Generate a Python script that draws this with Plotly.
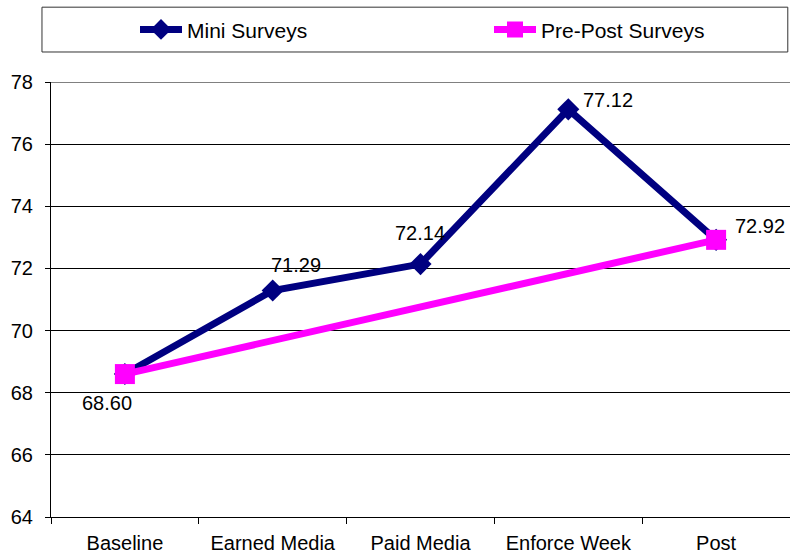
import plotly.graph_objects as go

categories = ["Baseline", "Earned Media", "Paid Media", "Enforce Week", "Post"]
mini_surveys = [68.60, 71.29, 72.14, 77.12, 72.92]
pre_post_surveys = [68.60, None, None, None, 72.92]
y_ticks = [64, 66, 68, 70, 72, 74, 76, 78]

# label offsets (pixels) for the Mini Surveys value labels
label_shift = [(-18, -29), (23, 25), (-1, 31), (40, 9), (44, 14)]

FONT = "Liberation Sans, Arial, sans-serif"

fig = go.Figure()
fig.add_trace(go.Scatter(
    x=categories, y=mini_surveys, name="Mini Surveys", mode="lines+markers",
    line=dict(color="#000080", width=7),
    marker=dict(symbol="diamond", size=17, color="#000080"),
    legend="legend",
))
fig.add_trace(go.Scatter(
    x=categories, y=pre_post_surveys, name="Pre-Post Surveys", mode="lines+markers",
    connectgaps=True,
    line=dict(color="#FF00FF", width=7),
    marker=dict(symbol="square", size=20, color="#FF00FF"),
    legend="legend2",
))

for c, v, (dx, dy) in zip(categories, mini_surveys, label_shift):
    fig.add_annotation(x=c, y=v, text=f"{v:.2f}", showarrow=False,
                       xshift=dx, yshift=dy,
                       font=dict(family=FONT, size=20, color="black"))

# legend frame
fig.add_shape(type="rect", xref="paper", yref="paper",
              x0=-0.0122, x1=0.997, y0=1.069, y1=1.172,
              line=dict(color="#333333", width=1), fillcolor="white", layer="below")
# top border of plot area
fig.add_shape(type="line", xref="paper", yref="y", x0=0, x1=1, y0=78, y1=78,
              line=dict(color="#808080", width=2))

legend_common = dict(orientation="h", y=1.12, xanchor="left", yanchor="middle",
                     font=dict(family=FONT, size=21, color="black"),
                     bgcolor="rgba(0,0,0,0)", borderwidth=0, itemwidth=42)

fig.update_layout(
    width=790, height=558,
    margin=dict(l=51, r=0, t=82, b=41),
    paper_bgcolor="white", plot_bgcolor="white",
    font=dict(family=FONT, size=20, color="black"),
    showlegend=True,
    legend=dict(x=(135 - 51) / 739, **legend_common),
    legend2=dict(x=(489 - 51) / 739, **legend_common),
    xaxis=dict(
        type="category", tickson="boundaries", ticks="outside", ticklen=6,
        tickcolor="black", showline=True, linecolor="black", linewidth=1,
        showgrid=False, range=[-0.5, 4.5], fixedrange=True,
        tickfont=dict(family=FONT, size=20), ticklabelstandoff=8,
    ),
    yaxis=dict(
        range=[64, 78], tickvals=y_ticks, ticks="outside", ticklen=5,
        tickcolor="black", showline=True, linecolor="black", linewidth=1,
        showgrid=True, gridcolor="black", gridwidth=1, zeroline=False,
        tickfont=dict(family=FONT, size=20), ticklabelstandoff=8,
    ),
)

fig.write_html("out.html")
